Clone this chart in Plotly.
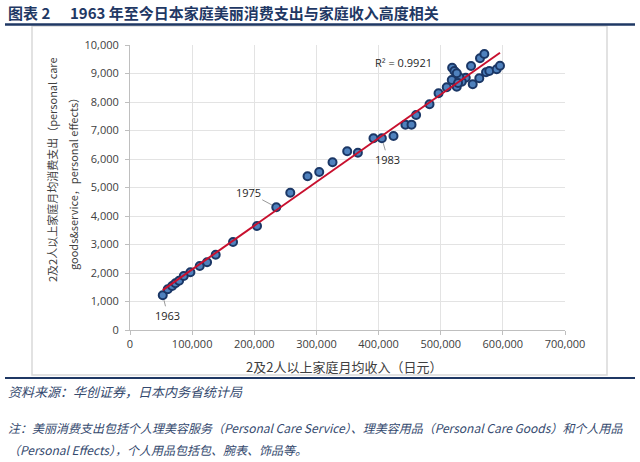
import numpy as np
import plotly.graph_objects as go

years = list(range(1963, 2009))
income = [52700, 60700, 67800, 73100, 79000, 86500, 97200, 112200, 124000, 137900,
          165800, 204400, 235400, 257900, 285700, 304500, 325900, 349500, 366700, 391800,
          405300, 424000, 443200, 453000, 460400, 482000, 496500, 509700,
          548800, 563200, 570200, 572900, 578200, 590100, 595400, 562100, 551500, 540300,
          533900, 530000, 525800, 518400, 522000, 525800, 517800, 527900]
spending = [1218, 1428, 1544, 1638, 1730, 1895, 2025, 2246, 2375, 2643,
            3088, 3649, 4305, 4818, 5393, 5544, 5885, 6270, 6222, 6726,
            6726, 6807, 7205, 7205, 7544, 7920, 8306, 8516,
            9264, 9534, 9685, 9042, 9088, 9148, 9274, 8832, 8621, 8853,
            8713, 8867, 8538, 9204, 9088, 9008, 8772, 8667]
labeled_years = [1963, 1975, 1983]
label_offsets = [(5, 20), (-28, -15), (6, 21)]
r2_label = "R² = 0.9921"
x_ticks = [0, 100000, 200000, 300000, 400000, 500000, 600000, 700000]
y_ticks = [0, 1000, 2000, 3000, 4000, 5000, 6000, 7000, 8000, 9000, 10000]

x = np.array(income, dtype=float)
y = np.array(spending, dtype=float)
slope, intercept = np.polyfit(x, y, 1)
line_x = np.array([x.min(), x.max()])
line_y = slope * line_x + intercept

W, H = 640, 462
ML, MR, MT, MB = 130, 75, 45, 132
PW, PH = W - ML - MR, H - MT - MB


def px(v):
    return (v - ML) / PW


def py(v):
    return (H - MB - v) / PH


NAVY = "#1F3864"
CJK = "Noto Sans CJK SC"
NUM = "Open Sans"

fig = go.Figure()
fig.add_trace(go.Scatter(
    x=income, y=spending, mode="markers",
    marker=dict(size=8, color="#4F81BD", line=dict(color="#1B3766", width=2)),
    showlegend=False, hoverinfo="x+y"))
fig.add_trace(go.Scatter(
    x=line_x, y=line_y, mode="lines",
    line=dict(color="#C8102E", width=2), showlegend=False, hoverinfo="skip"))

axis_common = dict(
    showline=True, linecolor="#BFBFBF", linewidth=1,
    showgrid=True, gridcolor="#E3E3E3", gridwidth=1,
    ticks="outside", ticklen=4, tickcolor="#BFBFBF",
    tickfont=dict(family=NUM, size=11, color="#404040"),
    zeroline=False, tickformat=",d")

fig.update_xaxes(range=[0, 700000], tickvals=x_ticks, **axis_common)
fig.update_yaxes(range=[0, 10000], tickvals=y_ticks, ticklabelstandoff=4, **axis_common)

annotations = []
for yr, (ax, ay) in zip(labeled_years, label_offsets):
    i = years.index(yr)
    annotations.append(dict(
        x=income[i], y=spending[i], xref="x", yref="y", text=str(yr),
        showarrow=True, arrowhead=0, arrowwidth=0.8, arrowcolor="#7F7F7F",
        ax=ax, ay=ay, standoff=5, startstandoff=0,
        font=dict(family=NUM, size=11, color="#262626")))

annotations.append(dict(
    x=439500, y=9370, xref="x", yref="y", showarrow=False,
    text=r2_label, font=dict(family=NUM, size=11, color="#262626")))

# titles
annotations.append(dict(
    x=px(6), y=py(12), xref="paper", yref="paper", xanchor="left", yanchor="middle",
    showarrow=False, text="<b>图表 2</b>", font=dict(family=CJK, size=15, color=NAVY)))
annotations.append(dict(
    x=px(68), y=py(12), xref="paper", yref="paper", xanchor="left", yanchor="middle",
    showarrow=False, text="<b>1963 年至今日本家庭美丽消费支出与家庭收入高度相关</b>",
    font=dict(family=CJK, size=15, color=NAVY)))

annotations.append(dict(
    x=px(52), y=py(170), xref="paper", yref="paper", xanchor="center", yanchor="middle",
    showarrow=False, textangle=-90, text="2及2人以上家庭月均消费支出（personal care",
    font=dict(family=CJK, size=11, color="#404040")))
annotations.append(dict(
    x=px(73), y=py(181), xref="paper", yref="paper", xanchor="center", yanchor="middle",
    showarrow=False, textangle=-90, text="goods&service，personal effects）",
    font=dict(family=CJK, size=11, color="#404040")))
annotations.append(dict(
    x=px(344), y=py(366), xref="paper", yref="paper", xanchor="center", yanchor="middle",
    showarrow=False, text="2及2人以上家庭月均收入（日元）",
    font=dict(family=CJK, size=13, color="#404040")))

annotations.append(dict(
    x=px(6), y=py(391), xref="paper", yref="paper", xanchor="left", yanchor="middle",
    showarrow=False, text="<i>资料来源：华创证券，日本内务省统计局</i>",
    font=dict(family=CJK, size=13, color="#34496E")))
annotations.append(dict(
    x=px(6), y=py(427), xref="paper", yref="paper", xanchor="left", yanchor="middle",
    showarrow=False,
    text="<i>注：美丽消费支出包括个人理美容服务（Personal Care Service）、理美容用品（Personal Care Goods）和个人用品</i>",
    font=dict(family=CJK, size=12, color="#34496E")))
annotations.append(dict(
    x=px(6), y=py(449), xref="paper", yref="paper", xanchor="left", yanchor="middle",
    showarrow=False, text="<i>（Personal Effects），个人用品包括包、腕表、饰品等。</i>",
    font=dict(family=CJK, size=12, color="#34496E")))

shapes = [
    dict(type="rect", xref="paper", yref="paper",
         x0=px(32), x1=px(607), y0=py(375), y1=py(26),
         line=dict(color="#D9D9D9", width=1.5), layer="below"),
    dict(type="line", xref="paper", yref="paper",
         x0=px(5), x1=px(635), y0=py(24.5), y1=py(24.5),
         line=dict(color=NAVY, width=2.5)),
    dict(type="line", xref="paper", yref="paper",
         x0=px(5), x1=px(635), y0=py(378), y1=py(378),
         line=dict(color=NAVY, width=2)),
]

fig.update_layout(
    width=W, height=H,
    margin=dict(l=ML, r=MR, t=MT, b=MB),
    paper_bgcolor="white", plot_bgcolor="white",
    annotations=annotations, shapes=shapes,
    font=dict(family=CJK),
)

fig.write_html("out.html", config={"displayModeBar": False},
               post_script="document.body.style.margin='0';document.body.style.overflow='hidden';")
